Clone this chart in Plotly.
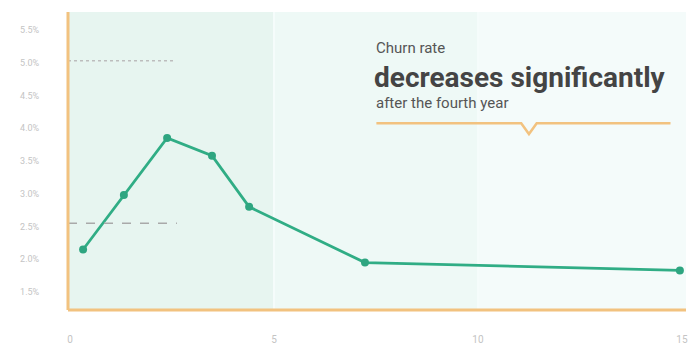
import plotly.graph_objects as go

# Churn rate by customer tenure (years)
tenure_years = [0.32, 1.32, 2.38, 3.48, 4.39, 7.23, 14.95]
churn_rate = [2.15, 2.98, 3.85, 3.58, 2.80, 1.95, 1.83]

y_ticks = [1.5, 2.0, 2.5, 3.0, 3.5, 4.0, 4.5, 5.0, 5.5]
y_tick_labels = ["1.5%", "2.0%", "2.5%", "3.0%", "3.5%", "4.0%", "4.5%", "5.0%", "5.5%"]
x_ticks = [0, 5, 10, 15]
x_tick_labels = ["0", "5", "10", "15"]

# Tenure bands shading and reference levels
bands = [(-0.05, 5, "#e7f5f0"), (5, 10, "#eef9f6"), (10, 15.1, "#f4fbfa")]
ref_upper = 5.03
ref_lower = 2.55

X_RANGE = [-0.05, 15.1]
Y_RANGE = [1.227, 5.772]
ORANGE = "#f2c27f"
GREEN = "#30ad85"

fig = go.Figure()

fig.add_trace(go.Scatter(
    x=tenure_years, y=churn_rate, mode="lines+markers",
    line=dict(color=GREEN, width=2.8),
    marker=dict(color="#2ea580", size=8),
    hoverinfo="skip", showlegend=False,
))

shapes = []
for x0, x1, c in bands:
    shapes.append(dict(type="rect", xref="x", yref="y", x0=x0, x1=x1,
                       y0=Y_RANGE[0], y1=Y_RANGE[1], fillcolor=c,
                       line=dict(width=0), layer="below"))
# faint band dividers
for xv in (5, 10):
    shapes.append(dict(type="line", xref="x", yref="y", x0=xv, x1=xv,
                       y0=Y_RANGE[0], y1=Y_RANGE[1],
                       line=dict(color="#f5fcfb", width=2), layer="below"))
# reference levels
shapes.append(dict(type="line", xref="x", yref="y", x0=-0.05, x1=2.57,
                   y0=ref_upper, y1=ref_upper,
                   line=dict(color="#bdbdbd", width=1.5, dash="dot")))
shapes.append(dict(type="line", xref="x", yref="y", x0=-0.05, x1=2.62,
                   y0=ref_lower, y1=ref_lower,
                   line=dict(color="#a9a9a9", width=1.5, dash="dash")))
# axis lines
shapes.append(dict(type="line", xref="paper", yref="paper", x0=0, x1=0,
                   y0=0, y1=1, line=dict(color=ORANGE, width=3)))
shapes.append(dict(type="line", xref="paper", yref="paper", x0=0, x1=1,
                   y0=0, y1=0, line=dict(color=ORANGE, width=3)))
# callout underline with pointer notch
ly, ny = 4.076, 3.91
shapes.append(dict(type="path", xref="x", yref="y",
                   path=f"M 7.51 {ly} L 11.06 {ly} L 11.25 {ny} L 11.44 {ly} L 14.72 {ly}",
                   line=dict(color=ORANGE, width=2.5)))

fig.update_layout(
    width=688, height=345,
    margin=dict(l=68, r=0, t=12, b=33),
    paper_bgcolor="white", plot_bgcolor="white",
    font=dict(family="Roboto", color="#c4c4c4", size=9),
    shapes=shapes,
    xaxis=dict(range=X_RANGE, tickvals=x_ticks, ticktext=x_tick_labels,
               showgrid=False, zeroline=False, showline=False,
               ticks="outside", ticklen=0, ticklabelstandoff=20,
               ticklabeloverflow="allow",
               tickfont=dict(size=10, color="#c4c4c4")),
    yaxis=dict(range=Y_RANGE, tickvals=y_ticks, ticktext=y_tick_labels,
               showgrid=False, zeroline=False, showline=False,
               ticks="outside", ticklen=0, ticklabelstandoff=26,
               tickfont=dict(size=9, color="#c4c4c4")),
)

# callout text, positioned in pixel-equivalent paper coordinates
def px(xp):
    return (xp - 68) / 620

def py(yp):
    return (312 - yp) / 300

fig.add_annotation(x=px(375), y=py(48), xref="paper", yref="paper",
                   text="Churn rate", showarrow=False, xanchor="left", yanchor="middle",
                   font=dict(family="Roboto", size=15, color="#555555"))
fig.add_annotation(x=px(373), y=py(78), xref="paper", yref="paper",
                   text="<b>decreases significantly</b>", showarrow=False,
                   xanchor="left", yanchor="middle",
                   font=dict(family="Roboto", size=28, color="#444444"))
fig.add_annotation(x=px(375), y=py(104), xref="paper", yref="paper",
                   text="after the fourth year", showarrow=False,
                   xanchor="left", yanchor="middle",
                   font=dict(family="Roboto", size=15, color="#555555"))

fig.write_html("out.html")
